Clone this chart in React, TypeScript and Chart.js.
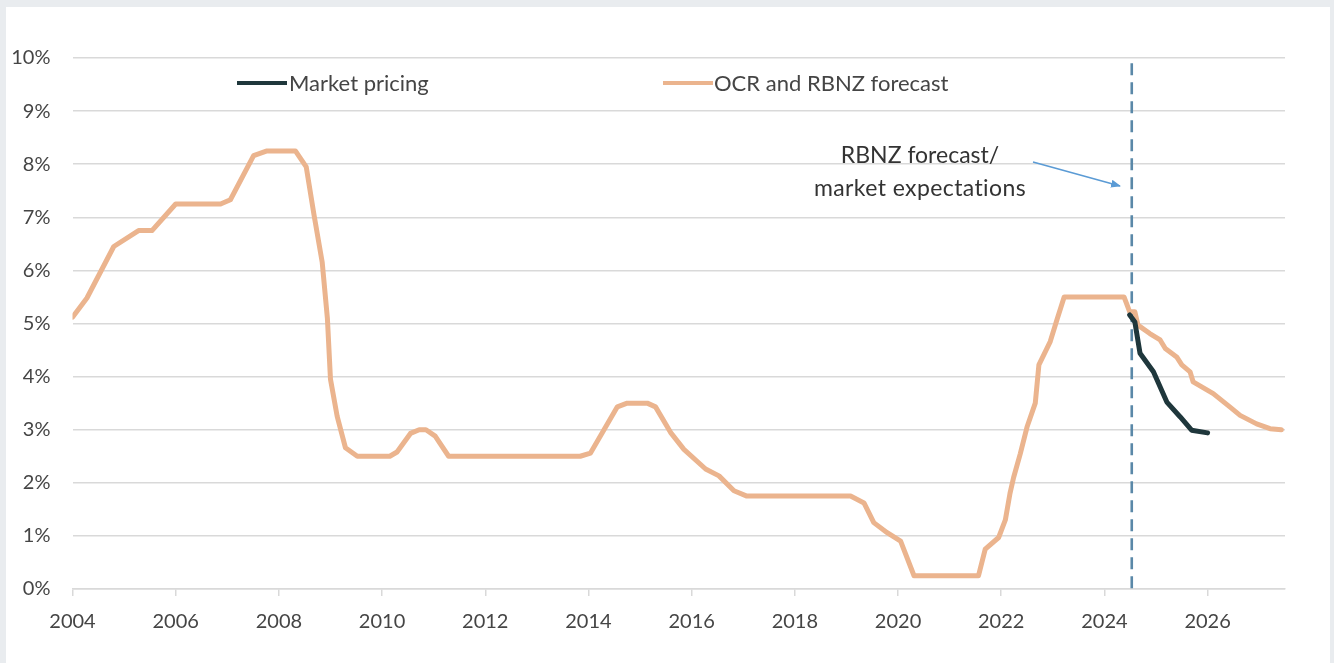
import { useEffect, useRef } from "react";
import { Chart, registerables } from "chart.js";

Chart.register(...registerables);

// ---- Data ----
const seriesLabels = ["Market pricing", "OCR and RBNZ forecast"];

const ocrYears = [
  2004.0, 2004.28, 2004.8, 2005.28, 2005.54, 2006.0, 2006.87, 2007.06, 2007.51, 2007.77,
  2008.32, 2008.53, 2008.68, 2008.84, 2008.94, 2009.0, 2009.13, 2009.29, 2009.52, 2010.15,
  2010.29, 2010.55, 2010.72, 2010.85, 2011.03, 2011.29, 2013.84, 2014.04, 2014.56, 2014.75,
  2015.14, 2015.3, 2015.59, 2015.85, 2016.27, 2016.53, 2016.82, 2017.07, 2019.08, 2019.34,
  2019.53, 2019.79, 2020.05, 2020.31, 2021.56, 2021.69, 2021.95, 2022.08, 2022.17, 2022.24,
  2022.37, 2022.5, 2022.66, 2022.73, 2022.95, 2023.08, 2023.22, 2024.38, 2024.49, 2024.59,
  2024.65, 2024.88, 2025.08, 2025.18, 2025.4, 2025.5, 2025.66, 2025.72, 2026.11, 2026.43,
  2026.63, 2026.95, 2027.21, 2027.43,
];
const ocrValues = [
  5.12, 5.48, 6.45, 6.75, 6.75, 7.25, 7.25, 7.33, 8.16, 8.25,
  8.25, 7.95, 7.05, 6.15, 5.1, 3.95, 3.25, 2.66, 2.5, 2.5,
  2.58, 2.93, 3.0, 3.0, 2.88, 2.5, 2.5, 2.56, 3.43, 3.5,
  3.5, 3.43, 2.95, 2.63, 2.26, 2.13, 1.85, 1.75, 1.75, 1.62,
  1.25, 1.06, 0.9, 0.25, 0.25, 0.75, 0.97, 1.3, 1.8, 2.1,
  2.55, 3.05, 3.5, 4.22, 4.66, 5.07, 5.5, 5.5, 5.22, 5.22,
  4.97, 4.81, 4.69, 4.53, 4.37, 4.22, 4.09, 3.9, 3.68, 3.43,
  3.27, 3.11, 3.02, 3.0,
];

const marketYears = [2024.49, 2024.59, 2024.69, 2024.95, 2025.21, 2025.47, 2025.69, 2026.0];
const marketValues = [5.16, 5.03, 4.44, 4.09, 3.52, 3.24, 2.99, 2.94];

const xTickYears = [2004, 2006, 2008, 2010, 2012, 2014, 2016, 2018, 2020, 2022, 2024, 2026];
const yTickValues = [0, 1, 2, 3, 4, 5, 6, 7, 8, 9, 10];
const xMin = 2004;
const xMax = 2027.5;
const forecastStartYear = 2024.53;
const annotationLines = ["RBNZ forecast/", "market expectations"];

// ---- Styles ----
const ORANGE = "#EBB48E";
const DARK = "#1F373C";
const DASH = "#5A88A8";
const GRID = "#D9D9D9";
const TEXT = "#454545";
const FONT = "Lato, 'Open Sans', sans-serif";

const forecastLinePlugin = {
  id: "forecastLine",
  beforeDatasetsDraw(chart: any) {
    const { ctx, scales } = chart;
    const x = scales.x;
    const y = scales.y;
    const px = x.getPixelForValue(forecastStartYear);
    ctx.save();
    ctx.strokeStyle = DASH;
    ctx.lineWidth = 2.6;
    ctx.setLineDash([12, 7]);
    ctx.beginPath();
    ctx.moveTo(px, y.getPixelForValue(9.9));
    ctx.lineTo(px, y.getPixelForValue(0));
    ctx.stroke();
    ctx.restore();
  },
};

export default function App() {
  const canvasRef = useRef<HTMLCanvasElement | null>(null);

  useEffect(() => {
    document.body.style.margin = "0";
    const canvas = canvasRef.current;
    if (!canvas) return;
    const chart = new Chart(canvas, {
      type: "line",
      data: {
        datasets: [
          {
            label: seriesLabels[0],
            data: marketYears.map((x, i) => ({ x, y: marketValues[i] })),
            borderColor: DARK,
            borderWidth: 5,
            pointRadius: 0,
            borderCapStyle: "round",
            borderJoinStyle: "round",
            tension: 0,
            fill: false,
          },
          {
            label: seriesLabels[1],
            data: ocrYears.map((x, i) => ({ x, y: ocrValues[i] })),
            borderColor: ORANGE,
            borderWidth: 5,
            pointRadius: 0,
            borderCapStyle: "round",
            borderJoinStyle: "round",
            tension: 0,
            fill: false,
          },
        ],
      },
      options: {
        animation: false,
        responsive: false,
        devicePixelRatio: 1,
        layout: { padding: { top: 51, right: 45, bottom: 0, left: 0 } },
        plugins: {
          legend: { display: false },
          tooltip: { enabled: false },
        },
        scales: {
          x: {
            type: "linear",
            min: xMin,
            max: xMax,
            afterBuildTicks: (scale: any) => {
              scale.ticks = xTickYears.map((v) => ({ value: v }));
            },
            afterFit: (scale: any) => {
              scale.height = 74;
            },
            ticks: {
              callback: (v: any) => String(v),
              color: TEXT,
              font: { family: FONT, size: 20 },
              padding: 14,
              maxRotation: 0,
              autoSkip: false,
            },
            grid: {
              display: true,
              drawOnChartArea: false,
              drawTicks: true,
              tickLength: 7,
              color: GRID,
              lineWidth: 1.5,
            },
            border: { display: true, color: GRID, width: 1.5 },
          },
          y: {
            type: "linear",
            min: 0,
            max: 10,
            afterBuildTicks: (scale: any) => {
              scale.ticks = yTickValues.map((v) => ({ value: v }));
            },
            afterFit: (scale: any) => {
              scale.width = 66.5;
            },
            ticks: {
              callback: (v: any) => v + "%",
              color: TEXT,
              font: { family: FONT, size: 20 },
              padding: 22,
            },
            grid: { color: GRID, lineWidth: 1.5, drawTicks: false },
            border: { display: false },
          },
        },
      },
      plugins: [forecastLinePlugin],
    } as any);
    return () => chart.destroy();
  }, []);

  return (
    <div
      style={{
        position: "relative",
        width: 1334,
        height: 663,
        background: "#E9ECEF",
        overflow: "hidden",
        fontFamily: FONT,
      }}
    >
      <div style={{ position: "absolute", left: 6, top: 7, width: 1324, height: 656, background: "#FFFFFF" }}>
        <canvas ref={canvasRef} width={1324} height={656} style={{ display: "block" }} />
      </div>
      {/* Legend */}
      <div style={{ position: "absolute", left: 237, top: 81, width: 50, height: 4, background: DARK }} />
      <div style={{ position: "absolute", left: 289, top: 69, fontSize: 22, lineHeight: "28px", color: TEXT, whiteSpace: "nowrap" }}>
        {seriesLabels[0]}
      </div>
      <div style={{ position: "absolute", left: 663, top: 81, width: 50, height: 4, background: ORANGE }} />
      <div style={{ position: "absolute", left: 714, top: 69, fontSize: 22, lineHeight: "28px", color: TEXT, whiteSpace: "nowrap" }}>
        {seriesLabels[1]}
      </div>
      {/* Annotation */}
      <div
        style={{
          position: "absolute",
          left: 780,
          width: 280,
          top: 138,
          textAlign: "center",
          fontSize: 23,
          lineHeight: "33px",
          color: "#333333",
          whiteSpace: "nowrap",
        }}
      >
        <div>{annotationLines[0]}</div>
        <div style={{ letterSpacing: "0.4px" }}>{annotationLines[1]}</div>
      </div>
      <svg style={{ position: "absolute", left: 0, top: 0 }} width={1334} height={663}>
        <defs>
          <marker id="ah" markerWidth="10" markerHeight="8" refX="9" refY="4" orient="auto" markerUnits="userSpaceOnUse">
            <path d="M0,0 L10,4 L0,8 z" fill="#5B9BD5" />
          </marker>
        </defs>
        <line x1={1033} y1={162} x2={1120} y2={186} stroke="#5B9BD5" strokeWidth={1.5} markerEnd="url(#ah)" />
      </svg>
    </div>
  );
}
